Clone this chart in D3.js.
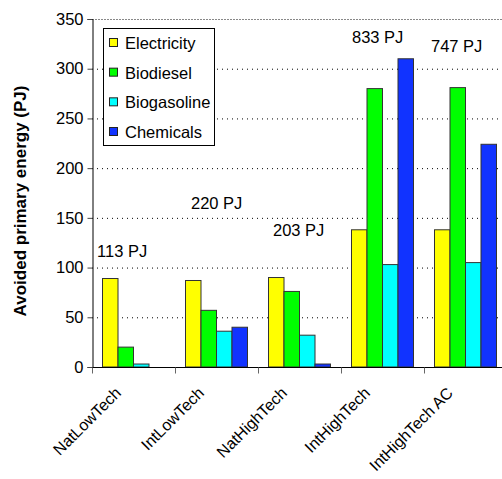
<!DOCTYPE html>
<html><head><meta charset="utf-8">
<script src="https://cdn.jsdelivr.net/npm/d3@7"></script>
<style>
html,body{margin:0;padding:0;background:#fff;}
svg{display:block;font-family:"Liberation Sans",Arial,sans-serif;}
</style></head>
<body><svg id="chart" width="502" height="479"></svg>
<script>
// ---- data ----
const categories = ["NatLowTech","IntLowTech","NatHighTech","IntHighTech","IntHighTech AC"];
const seriesNames = ["Electricity","Biodiesel","Biogasoline","Chemicals"];
const electricity = [89, 87, 90, 138, 138];
const biodiesel   = [20, 57, 76, 280, 281];
const biogasoline = [3, 36, 32, 103, 105];
const chemicals   = [0, 40, 3, 310, 224];
const totalLabels = ["113 PJ","220 PJ","203 PJ","833 PJ","747 PJ"];
const yTicks = [0,50,100,150,200,250,300,350];

(function () {
// ---- layout / style ----
const colors = ["#FFFF00","#00FF00","#00FFFF","#1133FF"];
const labelDx = [5, 16, 15, 11, 7];          // px from category start
const labelYv = [110.5, 159, 132, 326, 317];   // baseline in value units

const svg = d3.select("#chart");
const mLeft = 92, mRight = 507, mTop = 19, mBottom = 367;
const x = d3.scaleBand().domain(categories).range([mLeft, mRight]).padding(0);
const inner = d3.scaleBand().domain(seriesNames).range([10.5, x.bandwidth() - 10.5]).padding(0);
const y = d3.scaleLinear().domain([0, 350]).range([mBottom, mTop]);

const values = [electricity, biodiesel, biogasoline, chemicals];

// gridlines
svg.append("g").selectAll("line").data(yTicks.filter(d => d > 0 && d < 350)).join("line")
  .attr("x1", mLeft).attr("x2", 502).attr("y1", d => y(d) + 0.5).attr("y2", d => y(d) + 0.5)
  .attr("stroke", "#000").attr("stroke-width", 1).attr("stroke-dasharray", "1,4");
svg.append("line").attr("x1", mLeft).attr("x2", 502).attr("y1", y(350) + 0.5).attr("y2", y(350) + 0.5)
  .attr("stroke", "#888").attr("stroke-width", 1).attr("stroke-dasharray", "2,1");

// bars
const g = svg.append("g");
seriesNames.forEach((s, si) => {
  g.append("g").selectAll("rect").data(categories.map((c, ci) => ({c, v: values[si][ci]})).filter(d => d.v > 0))
    .join("rect")
    .attr("x", d => x(d.c) + inner(s))
    .attr("width", inner.bandwidth())
    .attr("y", d => y(d.v))
    .attr("height", d => mBottom - y(d.v))
    .attr("fill", colors[si])
    .attr("stroke", "#333").attr("stroke-width", 1);
});

// y axis
const yAxis = d3.axisLeft(y).tickValues(yTicks).tickSize(5).tickPadding(4);
const ya = svg.append("g").attr("transform", `translate(${mLeft + 0.5},0)`).call(yAxis);
ya.select(".domain").attr("stroke", "#000");
ya.selectAll(".tick line").attr("stroke", "#444");
ya.selectAll("text").attr("font-size", 16.5).attr("fill", "#000")
  .attr("font-family", "'Liberation Sans',Arial,sans-serif");

// x axis
const xa = svg.append("g").attr("transform", `translate(0,${mBottom + 0.5})`);
xa.append("line").attr("x1", mLeft).attr("x2", mRight).attr("stroke", "#000");
const bounds = categories.map(c => x(c)).concat([mRight]);
xa.selectAll("line.t").data(bounds).join("line").attr("class", "t")
  .attr("x1", d => Math.round(d) + 0.5).attr("x2", d => Math.round(d) + 0.5)
  .attr("y1", 0).attr("y2", 6).attr("stroke", "#666");
svg.append("g").selectAll("text").data(categories).join("text")
  .attr("transform", d => `translate(${x(d) + x.bandwidth() / 2 - 11.5},${394}) rotate(-45)`)
  .attr("text-anchor", "end").attr("font-size", 16).attr("fill", "#000")
  .text(d => d);

// total labels
svg.append("g").selectAll("text").data(totalLabels).join("text")
  .attr("x", (d, i) => x(categories[i]) + labelDx[i])
  .attr("y", (d, i) => y(labelYv[i]))
  .attr("font-size", 16.5).attr("fill", "#000")
  .text(d => d);

// y title
svg.append("text")
  .attr("transform", `translate(26,${(mTop + mBottom) / 2 + 8}) rotate(-90)`)
  .attr("text-anchor", "middle").attr("font-size", 17).attr("font-weight", "bold")
  .text("Avoided primary energy (PJ)");

// legend
const lg = svg.append("g");
lg.append("rect").attr("x", 103.5).attr("y", 28.5).attr("width", 111).attr("height", 117)
  .attr("fill", "#fff").attr("stroke", "#000").attr("stroke-width", 1);
const rowY = d3.scalePoint().domain(seriesNames).range([43, 132]);
seriesNames.forEach((s, i) => {
  lg.append("rect").attr("x", 109.5).attr("y", rowY(s) - 4.5).attr("width", 8).attr("height", 8)
    .attr("fill", colors[i]).attr("stroke", "#222");
  lg.append("text").attr("x", 125).attr("y", rowY(s)).attr("dy", "0.36em")
    .attr("font-size", 16.5).attr("fill", "#000").text(s);
});
})();
</script></body></html>
